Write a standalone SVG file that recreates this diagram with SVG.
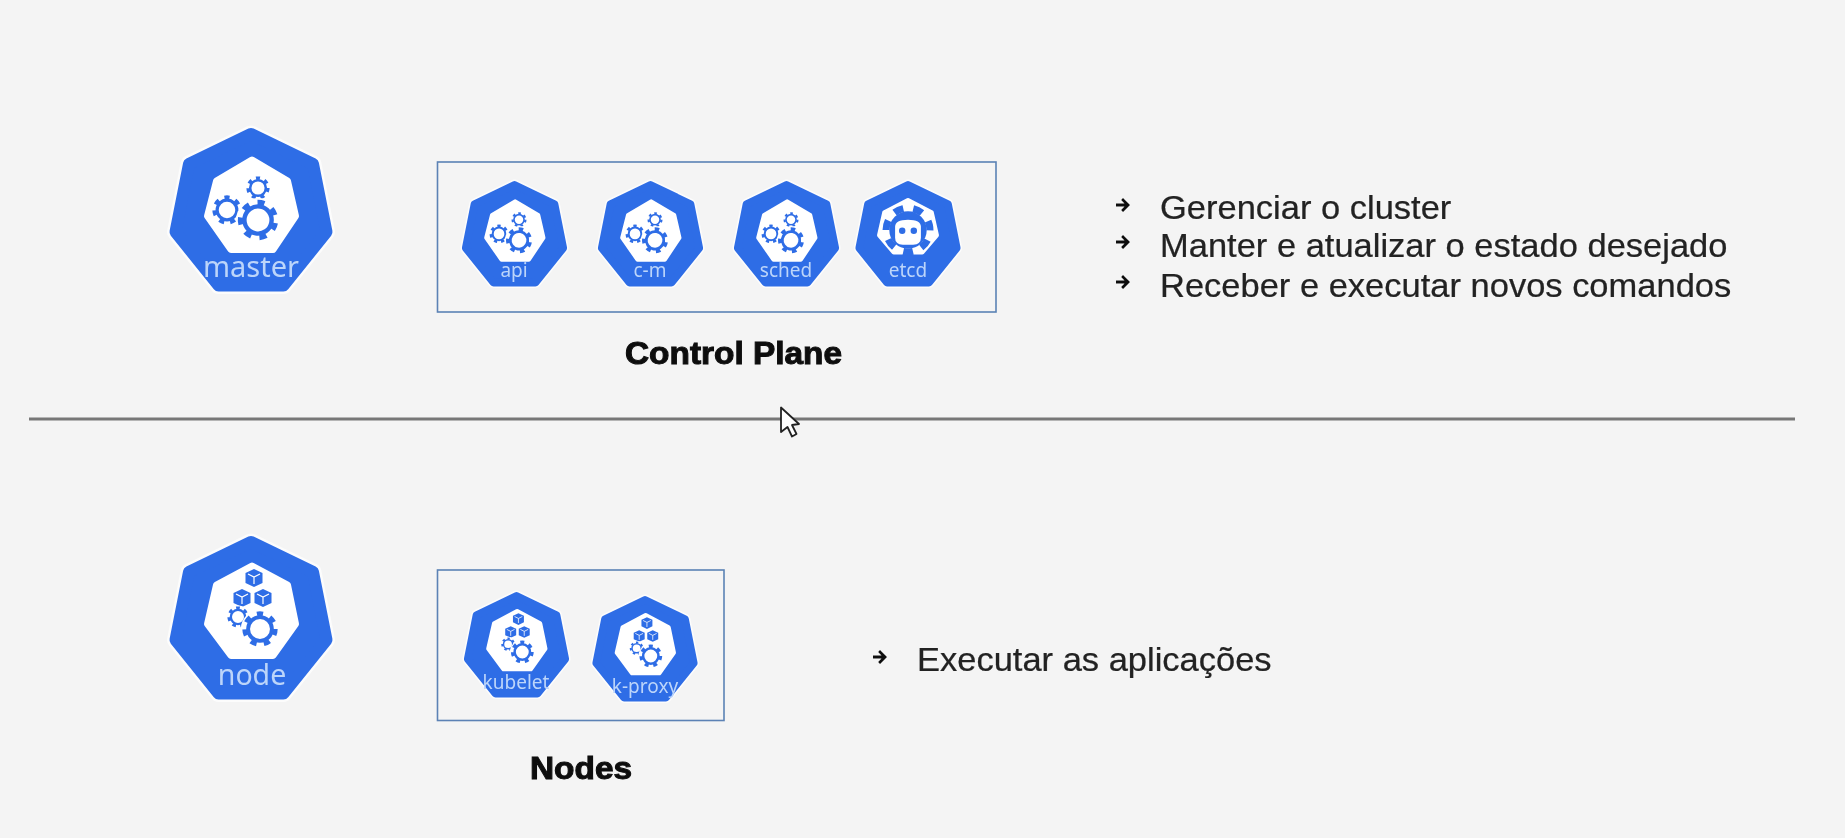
<svg xmlns="http://www.w3.org/2000/svg" width="1845" height="838" viewBox="0 0 1845 838">
<style>
.hept{fill:#2f6de6;stroke:#2f6de6;stroke-width:12;stroke-linejoin:round}
.halo{fill:none;stroke:#fff;stroke-width:17;stroke-linejoin:round;opacity:.7}
.inner{fill:#fff;stroke:#fff;stroke-width:7;stroke-linejoin:round}
.lbl{font-family:"Noto Sans","Open Sans",sans-serif;fill:#bcd5fa;text-anchor:middle}
.box{fill:none;stroke:#5b82b5;stroke-width:1.6}
.head{font-family:"Liberation Sans",Arial,sans-serif;font-weight:700;font-size:30.5px;fill:#0a0a0a;stroke:#0a0a0a;stroke-width:1;text-anchor:middle}
.body{font-family:"Liberation Sans",Arial,sans-serif;font-size:33px;fill:#222;stroke:#222;stroke-width:.25}
</style>
<defs>
<filter id="soft" filterUnits="userSpaceOnUse" x="0" y="0" width="1845" height="838"><feGaussianBlur stdDeviation=".55"/></filter>
<g id="gear"><circle r="1.1" fill="#fff"/><circle r=".86" fill="none" stroke="#2f6de6" stroke-width=".3" stroke-dasharray=".35 .42"/><circle r=".68" fill="#fff" stroke="#2f6de6" stroke-width=".22"/></g>
<g id="shell"><path class="halo" d="M0 6 62 36 75.500 104 32.500 157.500-32.500 157.500-75.500 104-62 36Z"/><path class="hept" d="M0 6 62 36 75.500 104 32.500 157.500-32.500 157.500-75.500 104-62 36Z"/></g>
<g id="mastericon"><use href="#shell"/><path class="inner" d="M1 32 36.500 53 44.500 88 22 121.500-20 121.500-43.500 88-34.500 53Z"/><use href="#gear" transform="translate(-24 82) scale(14.500)"/><use href="#gear" transform="translate(7 60) scale(11.500)"/><use href="#gear" transform="translate(7 92) rotate(10) scale(20)"/></g>
<g id="cube"><path d="M0-9 8.500-5V5L0 9-8.500 5V-5Z" fill="#2f6de6"/><path d="M-6-4 0-1 6-4M0-1V6" fill="none" stroke="#fff" stroke-width="1.200"/></g>
<g id="nodeicon"><use href="#shell"/><path class="inner" d="M1 30 36.500 49 44.500 88 22 119.500-20 119.500-43.500 88-34.500 49Z"/><use href="#cube" transform="translate(3 42)"/><use href="#cube" transform="translate(-9 62)"/><use href="#cube" transform="translate(12 62)"/><use href="#gear" transform="translate(-13 81) scale(10.500)"/><use href="#gear" transform="translate(9 93) scale(17.500)"/></g>
<g id="etcdicon"><use href="#shell"/><path class="inner" d="M0 30 36.500 49 44.500 84 22 110.500-22 110.500-44.500 84-36.500 49Z"/>
<circle cx="0" cy="76" r="29" fill="#2f6de6"/><circle cx="0" cy="76" r="34" fill="none" stroke="#2f6de6" stroke-width="11" stroke-dasharray="15 15.500" transform="rotate(77 0 76)"/>
<path fill="#fff" d="M-20 71Q-20 60 0 60 20 60 20 71V88Q20 98 8 99H-8Q-20 98-20 88Z"/><circle cx="-9" cy="77" r="5" fill="#2f6de6"/><circle cx="9" cy="77" r="5" fill="#2f6de6"/></g>
<path id="bullet" d="M-7-1.500H1.500L-1.800-5 0-7 7 0 0 7-1.800 5 1.500 1.500H-7Z" fill="#111"/>
</defs>
<rect width="1845" height="838" fill="#f4f4f4"/>
<g filter="url(#soft)">
<g id="connectors"><line id="divider" x1="29" y1="419" x2="1795" y2="419" stroke="#777" stroke-width="3"/></g>
<g id="master"><use href="#mastericon" transform="translate(251 128)"/><text class="lbl" x="251" y="277" font-size="29">master</text></g>
<g id="control-plane"><rect class="box" x="437.500" y="162" width="558.500" height="150"/><text class="head" transform="translate(733.500 364) scale(1.095 1)">Control Plane</text></g>
<g id="api"><use href="#mastericon" transform="translate(514.500 181) scale(.645)"/><text class="lbl" x="514" y="277" font-size="19">api</text></g>
<g id="c-m"><use href="#mastericon" transform="translate(650.500 181) scale(.645)"/><text class="lbl" x="650" y="277" font-size="19">c-m</text></g>
<g id="sched"><use href="#mastericon" transform="translate(786.500 181) scale(.645)"/><text class="lbl" x="786" y="277" font-size="19">sched</text></g>
<g id="etcd"><use href="#etcdicon" transform="translate(908 181) scale(.645)"/><text class="lbl" x="908" y="277" font-size="19">etcd</text></g>
<g id="control-text">
<use href="#bullet" transform="translate(1123 205)"/><text class="body" transform="translate(1160 219) scale(1.045 1)">Gerenciar o cluster</text>
<use href="#bullet" transform="translate(1123 242)"/><text class="body" transform="translate(1160 257) scale(1.045 1)">Manter e atualizar o estado desejado</text>
<use href="#bullet" transform="translate(1123 282)"/><text class="body" transform="translate(1160 297) scale(1.045 1)">Receber e executar novos comandos</text>
</g>
<g id="node"><use href="#nodeicon" transform="translate(251 536)"/><text class="lbl" x="252" y="685" font-size="28.500">node</text></g>
<g id="nodes"><rect class="box" x="437.500" y="570" width="286.500" height="150.500"/><text class="head" transform="translate(581 779) scale(1.095 1)">Nodes</text></g>
<g id="kubelet"><use href="#nodeicon" transform="translate(516.500 592) scale(.645)"/><text class="lbl" x="516" y="689" font-size="19">kubelet</text></g>
<g id="k-proxy"><use href="#nodeicon" transform="translate(645 596) scale(.645)"/><text class="lbl" x="645" y="693" font-size="19">k-proxy</text></g>
<g id="node-text"><use href="#bullet" transform="translate(880 657)"/><text class="body" transform="translate(917 671) scale(1.045 1)">Executar as aplicações</text></g>
<path id="cursor" d="M781 407.500V432L787.500 427 792 436.500 796.500 434 792 425 799 424Z" fill="#fff" stroke="#222" stroke-width="1.800" stroke-linejoin="round"/>
</g>
</svg>
